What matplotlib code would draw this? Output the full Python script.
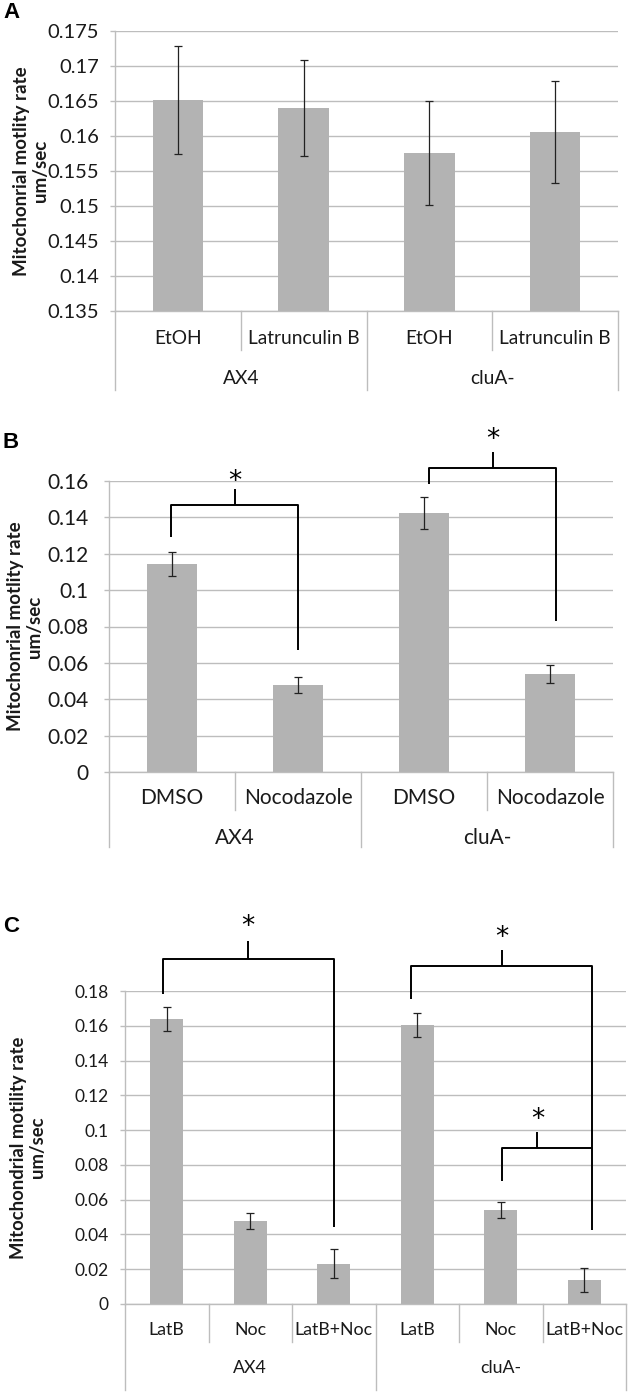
import matplotlib
matplotlib.use("Agg")
import matplotlib.pyplot as plt
from matplotlib.transforms import offset_copy
from matplotlib.ticker import FuncFormatter

plt.rcParams['font.family'] = ['Lato', 'DejaVu Sans']

# ---- data ----
groups = ['AX4', 'cluA-']

a_cats = ['EtOH', 'Latrunculin B', 'EtOH', 'Latrunculin B']
a_vals = [0.1651, 0.1640, 0.1576, 0.1606]
a_errs = [0.0077, 0.0069, 0.0074, 0.0073]
a_ticks = [0.135, 0.14, 0.145, 0.15, 0.155, 0.16, 0.165, 0.17, 0.175]

b_cats = ['DMSO', 'Nocodazole', 'DMSO', 'Nocodazole']
b_vals = [0.1142, 0.0477, 0.1422, 0.0539]
b_errs = [0.0066, 0.0044, 0.0088, 0.0048]
b_ticks = [0, 0.02, 0.04, 0.06, 0.08, 0.1, 0.12, 0.14, 0.16]

c_cats = ['LatB', 'Noc', 'LatB+Noc', 'LatB', 'Noc', 'LatB+Noc']
c_vals = [0.1639, 0.0479, 0.0232, 0.1605, 0.0540, 0.0138]
c_errs = [0.0069, 0.0046, 0.0084, 0.0067, 0.0046, 0.0070]
c_ticks = [0, 0.02, 0.04, 0.06, 0.08, 0.1, 0.12, 0.14, 0.16, 0.18]

# significance brackets: x_left, x_right, x_tick, y_bar, y_left_end, y_right_end, y_tick_top, y_star
b_brackets = [(-0.01, 1.0, 0.5, 0.1468, 0.1292, 0.067, 0.1556, 0.1595),
              (2.04, 3.05, 2.545, 0.1673, 0.1582, 0.0829, 0.1758, 0.1825)]
c_brackets = [(-0.05, 2.0, 0.975, 0.1984, 0.1781, 0.0444, 0.2085, 0.217),
              (2.925, 5.096, 4.01, 0.1942, 0.1756, 0.0425, 0.2034, 0.2105),
              (4.01, 5.096, 4.44, 0.090, 0.0708, 0.090, 0.099, 0.106)]

W, H = 630, 1393
fig = plt.figure(figsize=(W / 100, H / 100), dpi=100)

GRID = '#bdbdbd'
BAR = '#b3b3b3'
TXT = '#1a1a1a'


def fmt(v, pos):
    return '%g' % round(v, 4)


def panel(box, cats, vals, errs, ticks, letter, letter_y, ylabel, ylab_x, fs_tick, fs_cat, fs_ylab,
          tick_pad, lab_off, grp_off, inner_off, outer_off, brackets=None):
    l, t, r, b = box
    ax = fig.add_axes([l / W, 1 - b / H, (r - l) / W, (b - t) / H])
    n = len(cats)
    x = list(range(n))
    ax.bar(x, vals, width=0.4, color=BAR, zorder=2)
    ax.errorbar(x, vals, yerr=errs, fmt='none', ecolor='#222222', elinewidth=0.9,
                capsize=3, capthick=0.9, zorder=3)
    ax.set_xlim(-0.5, n - 0.5)
    ax.set_ylim(ticks[0], ticks[-1])
    ax.set_yticks(ticks)
    ax.yaxis.set_major_formatter(FuncFormatter(fmt))
    ax.grid(axis='y', color=GRID, linewidth=1.0, zorder=0)
    ax.set_axisbelow(True)
    for s in ['top', 'right']:
        ax.spines[s].set_visible(False)
    for s in ['left', 'bottom']:
        ax.spines[s].set_color(GRID)
        ax.spines[s].set_linewidth(1.0)
    ax.set_xticks([])
    ax.tick_params(axis='y', length=3.6, color=GRID, width=1.0, pad=tick_pad,
                   labelsize=fs_tick, labelcolor=TXT)

    # category separators hanging below the axis
    half = n // 2
    tr0 = ax.get_xaxis_transform()
    for i in range(n + 1):
        xs = i - 0.5
        off = outer_off if i % half == 0 else inner_off
        ax.add_line(plt.Line2D([xs, xs], [0, -off / (b - t)], color=GRID, lw=1.0,
                               transform=tr0, clip_on=False))

    trl = offset_copy(tr0, fig=fig, y=-lab_off, units='dots')
    for i, c in enumerate(cats):
        ax.text(i, 0, c, transform=trl, ha='center', va='center', fontsize=fs_cat, color=TXT)
    trg = offset_copy(tr0, fig=fig, y=-grp_off, units='dots')
    for k, g in enumerate(groups):
        ax.text(k * half + (half - 1) / 2, 0, g, transform=trg, ha='center', va='center',
                fontsize=fs_cat, color=TXT)

    if brackets:
        for xl, xr, xt, yb, yle, yre, ytt, ys in brackets:
            kw = dict(color='black', lw=1.4, clip_on=False, zorder=4, solid_capstyle='butt')
            ax.plot([xl, xl, xr, xr], [yle, yb, yb, yre], **kw)
            ax.plot([xt, xt], [yb, ytt], **kw)
            ax.text(xt, ys, '*', ha='center', va='center', fontsize=19, color='black',
                    family=['DejaVu Sans'], zorder=4)

    fig.text(ylab_x / W, 1 - (t + b) / 2 / H, ylabel, rotation=90, ha='center', va='center',
             multialignment='center', fontsize=fs_ylab, fontweight='bold', color=TXT,
             linespacing=1.15)
    fig.text(3 / W, 1 - letter_y / H, letter, ha='left', va='center', fontsize=16,
             fontweight='bold', family=['Liberation Sans', 'DejaVu Sans'])
    return ax


panel((115, 31, 618, 311), a_cats, a_vals, a_errs, a_ticks, 'A', 12,
      'Mitochonrial motlity rate\num/sec', 31, 14.5, 13.8, 13.5,
      8, 27, 67, 39, 79)
panel((109, 481, 613, 772), b_cats, b_vals, b_errs, b_ticks, 'B', 442,
      'Mitochonrial motlity rate\num/sec', 25, 15, 15, 13.5,
      11, 26, 66, 38, 75, b_brackets)
panel((125, 991, 626, 1304), c_cats, c_vals, c_errs, c_ticks, 'C', 927,
      'Mitochondrial motility rate\num/sec', 28, 12.5, 12.8, 13.3,
      8, 26, 64, 38, 86, c_brackets)

fig.savefig('out.png', dpi=100)
